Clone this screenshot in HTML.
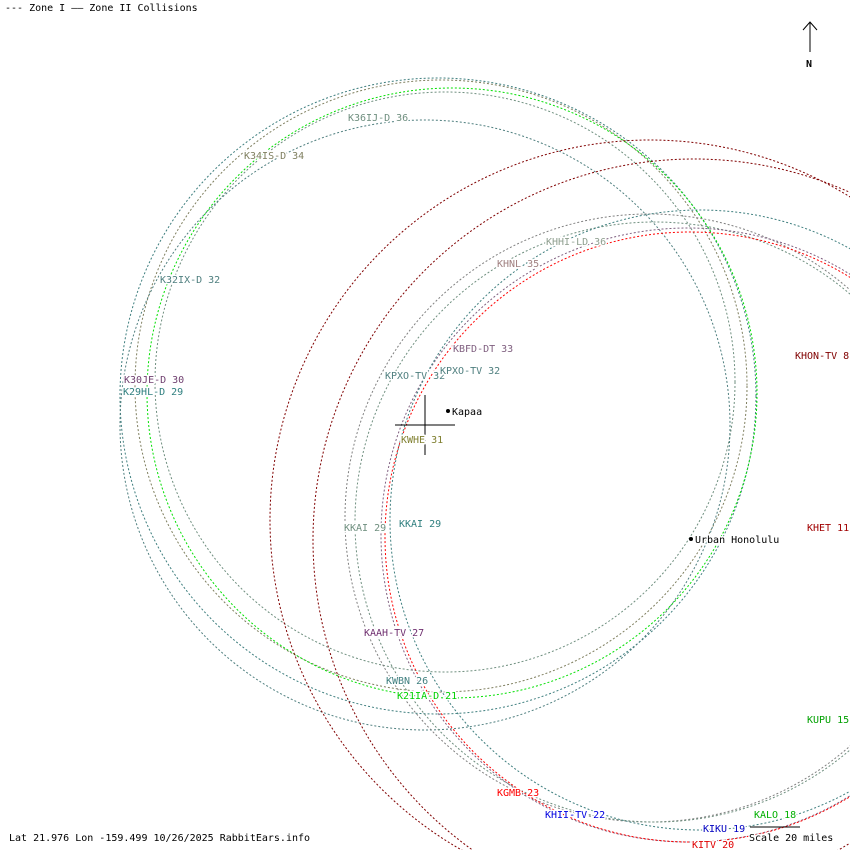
<!DOCTYPE html>
<html><head><style>
body{margin:0;background:#fff;overflow:hidden}
svg{display:block}
text{font-family:"DejaVu Sans Mono","Liberation Mono",monospace;font-size:10px;stroke:#fff;stroke-width:3px;paint-order:stroke;stroke-linejoin:round}
</style></head><body>
<svg width="850" height="850" viewBox="0 0 850 850" xmlns="http://www.w3.org/2000/svg">
<g fill="none" stroke-width="1" stroke-dasharray="2 2">
<circle cx="438" cy="396" r="318" stroke="#3f7f7f"/>
<circle cx="441" cy="386" r="306" stroke="#7f7f5f"/>
<circle cx="452" cy="393" r="305" stroke="#00e000"/>
<circle cx="445" cy="382" r="290" stroke="#6f8f7f"/>
<circle cx="425" cy="425" r="305" stroke="#4f7f7f"/>
<circle cx="650" cy="520" r="380" stroke="#800000"/>
<circle cx="694" cy="540" r="381" stroke="#800000"/>
<circle cx="649" cy="518" r="304" stroke="#808080"/>
<circle cx="655" cy="522" r="300" stroke="#6f8f7f"/>
<circle cx="688" cy="535" r="307" stroke="#806080"/>
<circle cx="690" cy="537" r="305" stroke="#ff0000"/>
<circle cx="700" cy="520" r="310" stroke="#3f7f7f"/>
</g>
<line x1="425" y1="395" x2="425" y2="455" stroke="#000"/>
<line x1="395" y1="425" x2="455" y2="425" stroke="#000"/>
<line x1="750" y1="827" x2="800" y2="827" stroke="#000"/>
<line x1="810" y1="22" x2="810" y2="52" stroke="#000"/>
<path d="M803 30 L810 22 L817 30" stroke="#000" fill="none"/>
<text x="806" y="67" font-weight="bold">N</text>
<text x="5" y="11">--- Zone I —— Zone II Collisions</text>
<circle cx="448" cy="411" r="2" fill="#000"/>
<text x="452" y="415">Kapaa</text>
<circle cx="691" cy="539" r="2" fill="#000"/>
<text x="695" y="543">Urban Honolulu</text>
<text x="348" y="121" fill="#6f8f7f">K36IJ-D 36</text>
<text x="244" y="159" fill="#7f7f5f">K34IS-D 34</text>
<text x="160" y="283" fill="#4f7f7f">K32IX-D 32</text>
<text x="124" y="383" fill="#6f3f6f">K30JE-D 30</text>
<text x="123" y="395" fill="#2f7f7f">K29HL-D 29</text>
<text x="546" y="245" fill="#8f9f8f">KHHI-LD 36</text>
<text x="497" y="267" fill="#a08080">KHNL 35</text>
<text x="453" y="352" fill="#806080">KBFD-DT 33</text>
<text x="385" y="379" fill="#4f7f7f">KPXO-TV 32</text>
<text x="440" y="374" fill="#4f7f7f">KPXO-TV 32</text>
<text x="401" y="443" fill="#7f7f2f">KWHE 31</text>
<text x="344" y="531" fill="#6f8f7f">KKAI 29</text>
<text x="399" y="527" fill="#2f7f7f">KKAI 29</text>
<text x="364" y="636" fill="#6f2f6f">KAAH-TV 27</text>
<text x="386" y="684" fill="#3f7f7f">KWBN 26</text>
<text x="397" y="699" fill="#00d000">K21IA-D 21</text>
<text x="795" y="359" fill="#800000">KHON-TV 8</text>
<text x="807" y="531" fill="#a00000">KHET 11</text>
<text x="807" y="723" fill="#00a000">KUPU 15</text>
<text x="497" y="796" fill="#ff0000">KGMB 23</text>
<text x="545" y="818" fill="#0000e0">KHII-TV 22</text>
<text x="754" y="818" fill="#00b000">KALO 18</text>
<text x="703" y="832" fill="#0000c0">KIKU 19</text>
<text x="749" y="841">Scale 20 miles</text>
<text x="692" y="848" fill="#e00000">KITV 20</text>
<text x="9" y="841">Lat 21.976 Lon -159.499 10/26/2025 RabbitEars.info</text>
</svg>
</body></html>
